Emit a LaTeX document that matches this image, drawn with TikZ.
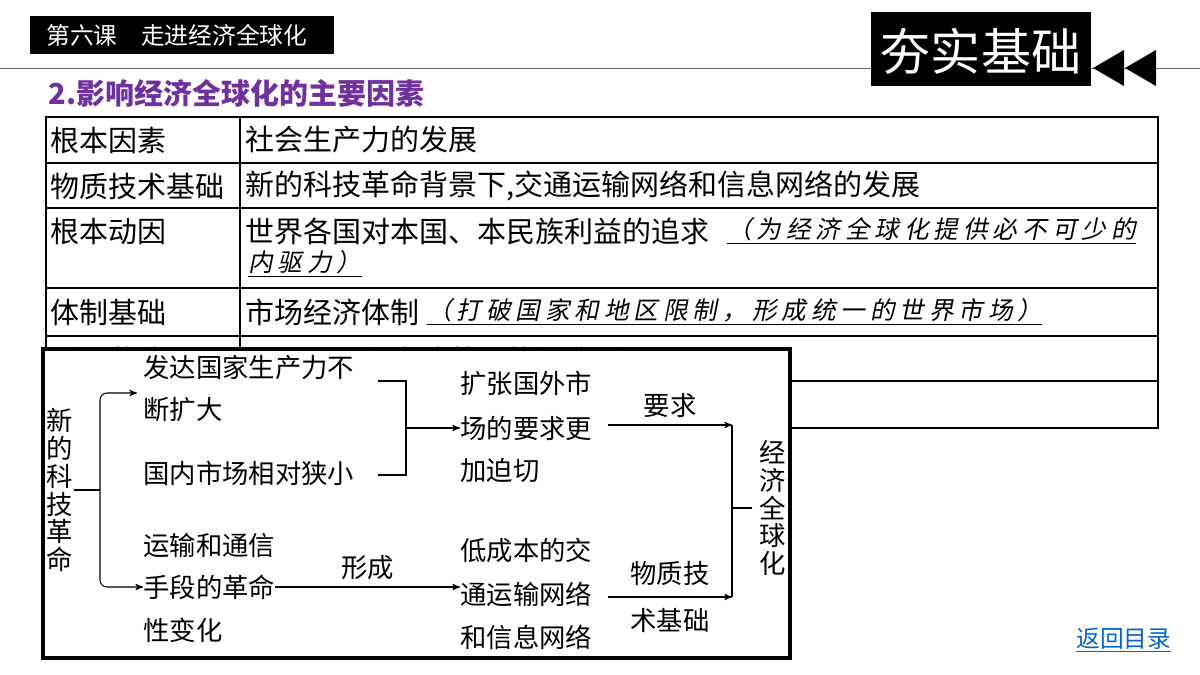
\documentclass[tikz,border=0pt]{standalone}
\usepackage{fontspec}
\setmainfont{Noto Sans CJK SC}
\newfontfamily\kai[FakeSlant=0.2,LetterSpace=20]{Noto Sans CJK SC}
\usetikzlibrary{positioning, arrows}
\definecolor{headpurple}{RGB}{112,48,160}
\definecolor{linkblue}{RGB}{0,102,204}
\tikzset{x=0.02cm, y=-0.02cm,
cell/.style={anchor=west, inner sep=0pt, font=\fontsize{16.5}{20}\selectfont},
note/.style={anchor=west, inner sep=0pt, font=\fontsize{14}{20}\selectfont\kai},
flow/.style={anchor=west, inner sep=0pt, font=\fontsize{15}{16}\selectfont},
vert/.style={inner sep=0pt, align=center, font=\fontsize{15}{15.9}\selectfont},
every edge/.style={draw,->,>=stealth',semithick}}
\begin{document}
\begin{tikzpicture}
    \useasboundingbox (0,0) rectangle (1200,674);
    % header
    \draw[gray!80!black] (0,68) -- (1200,68);
    \fill (30,16) rectangle (334,54);
    \node[anchor=west, white, inner sep=0pt, font=\fontsize{13.5}{16}\selectfont] (lesson) at (46,35) {第六课\hspace{1em}走进经济全球化};
    \fill (871,12) rectangle (1091,86);
    \node[white, inner sep=0pt, font=\fontsize{28.5}{30}\selectfont] (badge) at (981,51) {夯实基础};
    \fill (1093,68) -- (1124,50) -- (1124,86) -- cycle;
    \fill (1125,68) -- (1156,50) -- (1156,86) -- cycle;
    \node[anchor=west, inner sep=0pt, headpurple, font=\fontsize{16.5}{20}\selectfont\bfseries] (heading) at (48,93) {2.影响经济全球化的主要因素};
    % table
    \draw[semithick] (46,117) rectangle (1158,428);
    \foreach \y in {163,208,288,336,381}
        \draw[semithick] (46,\y) -- (1158,\y);
    \draw[semithick] (240,117) -- (240,428);
    \node[cell] (k1) at (50,140) {根本因素};
    \node[cell] (v1) at (245,140) {社会生产力的发展};
    \node[cell] (k2) at (50,186) {物质技术基础};
    \node[cell] (v2) at (245,186) {新的科技革命背景下,交通运输网络和信息网络的发展};
    \node[cell] (k3) at (50,231) {根本动因};
    \node[cell] (v3) at (245,231) {世界各国对本国、本民族利益的追求};
    \node[note] (n3) at (727,231) {\underline{（为经济全球化提供必不可少的}};
    \node[note] (n3b) at (248,264) {\underline{内驱力）}};
    \node[cell] (k4) at (50,312) {体制基础};
    \node[cell] (v4) at (245,312) {市场经济体制};
    \node[note] (n4) at (427,312) {\underline{（打破国家和地区限制，形成统一的世界市场）}};
    \node[cell] (k5) at (50,360) {重要载体};
    \node[cell] (v5) at (245,360) {跨国公司在全球范围的经济活动};
    % flow chart box on top
    \draw[line width=2.5pt, fill=white] (43,349) rectangle (790,658);
    \node[vert] (rev) at (60,490) {新\\的\\科\\技\\革\\命};
    \node[flow] (dev1) at (143,367) {发达国家生产力不};
    \node[flow] (dev2) at (143,410) {断扩大};
    \node[flow] (dom) at (143,473) {国内市场相对狭小};
    \node[flow] (tr1) at (143,545) {运输和通信};
    \node[flow] (tr2) at (143,587) {手段的革命};
    \node[flow] (tr3) at (143,630) {性变化};
    \node[flow] (ex1) at (460,383) {扩张国外市};
    \node[flow] (ex2) at (460,428) {场的要求更};
    \node[flow] (ex3) at (460,470) {加迫切};
    \node[flow] (net1) at (460,550) {低成本的交};
    \node[flow] (net2) at (460,594) {通运输网络};
    \node[flow] (net3) at (460,637) {和信息网络};
    \node[vert] (glob) at (773,508) {经\\济\\全\\球\\化};
    \coordinate (split) at (100,490);
    \coordinate (join) at (732,508);
    \draw[semithick] (rev.east) -- (split);
    \draw[semithick, rounded corners=4pt, ->, >=stealth'] (split) |- (137,393);
    \draw[semithick, rounded corners=4pt, ->, >=stealth'] (split) |- (tr2.west);
    \draw[semithick] (378,381) -| (406,475) -- (378,475);
    \draw (406,428) edge (ex2.west);
    \draw (tr2.east) edge node[above, flow, anchor=south, yshift=4pt] {形成} (net2.west |- tr2.east);
    \draw (608,425) edge node[flow, anchor=south, yshift=4pt] {要求} (732,425);
    \draw (608,597) edge node[flow, anchor=south, yshift=6pt] {物质技} node[flow, anchor=north, yshift=-6pt] {术基础} (732,597);
    \draw[semithick] (732,425) -- (732,597);
    \draw[semithick] (join) -- (752,508);
    % link
    \node[anchor=west, inner sep=0pt, linkblue, font=\fontsize{13.5}{16}\selectfont] (back) at (1076,640) {\underline{返回目录}};
\end{tikzpicture}
\end{document}
